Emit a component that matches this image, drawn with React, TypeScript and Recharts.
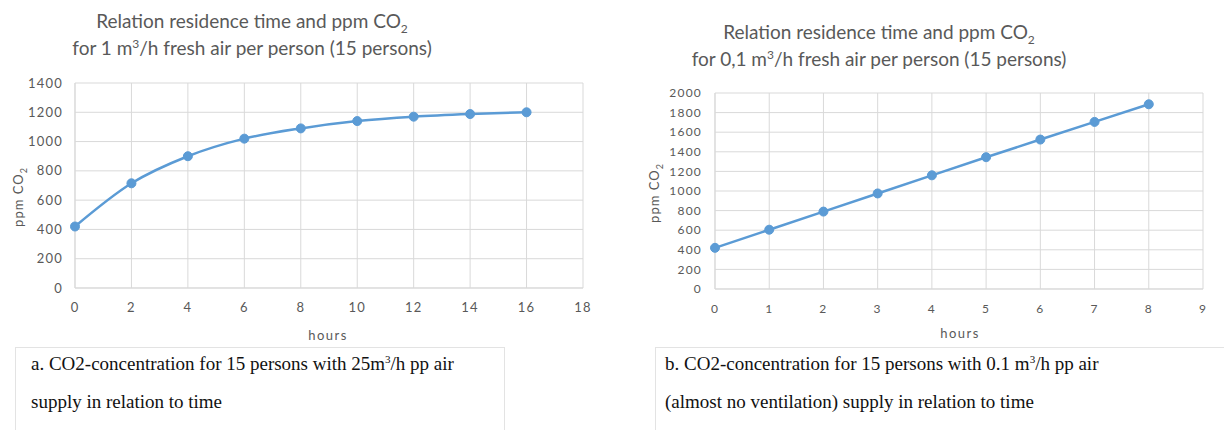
import React from 'react';
import { LineChart, Line, XAxis, YAxis, CartesianGrid } from 'recharts';

// chart a: 1 m3/h per person
const hoursA = [0, 2, 4, 6, 8, 10, 12, 14, 16];
const ppmA = [420, 715, 900, 1020, 1090, 1140, 1170, 1188, 1200];
const xTicksA = [0, 2, 4, 6, 8, 10, 12, 14, 16, 18];
const yTicksA = [0, 200, 400, 600, 800, 1000, 1200, 1400];

// chart b: 0,1 m3/h per person
const hoursB = [0, 1, 2, 3, 4, 5, 6, 7, 8];
const ppmB = [420, 605, 790, 975, 1160, 1345, 1525, 1705, 1885];
const xTicksB = [0, 1, 2, 3, 4, 5, 6, 7, 8, 9];
const yTicksB = [0, 200, 400, 600, 800, 1000, 1200, 1400, 1600, 1800, 2000];

const BLUE = '#5b9bd5';
const GRID = '#d9d9d9';
const TXT = '#595959';
const FONT = 'Lato, "Open Sans", sans-serif';

const abs = (left: number, top: number, extra: React.CSSProperties = {}): React.CSSProperties => ({
    position: 'absolute', left, top, ...extra,
});

interface ChartProps {
    hours: number[];
    ppm: number[];
    xTicks: number[];
    yTicks: number[];
    left: number;
    width: number;
    margin: { top: number; right: number; left: number; bottom: number };
    yWidth: number;
    yTickMargin: number;
    tickFont: number;
    curve: 'monotone' | 'linear';
}

const CO2Chart: React.FC<ChartProps> = (p) => {
    const data = p.hours.map((h, i) => ({ h, ppm: p.ppm[i] }));
    const xMax = p.xTicks[p.xTicks.length - 1];
    const yMax = p.yTicks[p.yTicks.length - 1];
    const tick = { fill: TXT, fontSize: p.tickFont, fontFamily: FONT, style: { letterSpacing: '1.2px' } };
    return (
        <div style={abs(p.left, 0)}>
            <LineChart width={p.width} height={340} data={data} margin={p.margin}>
                <CartesianGrid stroke={GRID} strokeWidth={1} />
                <XAxis dataKey="h" type="number" domain={[0, xMax]} ticks={p.xTicks} interval={0}
                    fontSize={p.tickFont} fontFamily={FONT}
                    axisLine={{ stroke: GRID }} tickLine={false} tickMargin={9} height={30} tick={tick} />
                <YAxis type="number" domain={[0, yMax]} ticks={p.yTicks} interval={0} width={p.yWidth}
                    fontSize={p.tickFont} fontFamily={FONT}
                    axisLine={{ stroke: GRID }} tickLine={false} tickMargin={p.yTickMargin} tick={tick} />
                <Line dataKey="ppm" type={p.curve} stroke={BLUE} strokeWidth={2.5}
                    dot={{ r: 4.5, fill: BLUE, stroke: BLUE, strokeWidth: 1 }}
                    isAnimationActive={false} />
            </LineChart>
        </div>
    );
};

const sub = (s: string, size: number) => <sub style={{ fontSize: size, lineHeight: 0 }}>{s}</sub>;
const sup = (s: string, size: number) => <sup style={{ fontSize: size, lineHeight: 0 }}>{s}</sup>;

const Title = ({ cx, top, lines }: { cx: number; top: number; lines: React.ReactNode[] }) => (
    <div style={abs(cx - 260, top, { width: 520, textAlign: 'center', color: TXT, fontFamily: FONT, fontSize: 19, lineHeight: '27px' })}>
        {lines.map((l, i) => <div key={i} style={{ height: 27 }}>{l}</div>)}
    </div>
);

const YLabel = ({ cx, cy }: { cx: number; cy: number }) => (
    <div style={abs(cx - 40, cy - 8, { width: 80, height: 16, textAlign: 'center', color: TXT, fontFamily: FONT, fontSize: 13, letterSpacing: 1, lineHeight: '16px', transform: 'rotate(-90deg)' })}>
        ppm CO{sub('2', 9)}
    </div>
);

const XLabel = ({ cx, cy }: { cx: number; cy: number }) => (
    <div style={abs(cx - 40, cy - 8, { width: 80, textAlign: 'center', color: TXT, fontFamily: FONT, fontSize: 13, letterSpacing: 1.5, lineHeight: '16px' })}>
        hours
    </div>
);

const Caption = ({ left, width, textLeft, lines }: { left: number; width: number; textLeft: number; lines: React.ReactNode[] }) => (
    <div style={abs(left, 347, { width, height: 100, border: '1px solid #e3e3e3', boxSizing: 'border-box' })}>
        <div style={abs(textLeft - left, -3, { fontFamily: '"Liberation Serif", serif', fontSize: 19, lineHeight: '38px', color: '#111', whiteSpace: 'nowrap' })}>
            {lines.map((l, i) => <div key={i} style={{ height: 38 }}>{l}</div>)}
        </div>
    </div>
);

export default function App() {
    return (
        <div style={{ position: 'absolute', left: 0, top: 0, width: 1224, height: 430, background: '#fff', overflow: 'hidden' }}>
            <Title cx={252} top={7} lines={[
                <>Relation residence time and ppm CO{sub('2', 12)}</>,
                <>for 1 m{sup('3', 12)}/h fresh air per person (15 persons)</>,
            ]} />
            <Title cx={879} top={18} lines={[
                <>Relation residence time and ppm CO{sub('2', 12)}</>,
                <>for 0,1 m{sup('3', 12)}/h fresh air per person (15 persons)</>,
            ]} />
            <CO2Chart hours={hoursA} ppm={ppmA} xTicks={xTicksA} yTicks={yTicksA} left={0} width={600}
                margin={{ top: 83, right: 17, left: 0, bottom: 22 }} yWidth={75} yTickMargin={6}
                tickFont={13} curve="monotone" />
            <CO2Chart hours={hoursB} ppm={ppmB} xTicks={xTicksB} yTicks={yTicksB} left={612} width={612}
                margin={{ top: 93, right: 21, left: 0, bottom: 21 }} yWidth={103} yTickMargin={7}
                tickFont={12} curve="linear" />
            <YLabel cx={18} cy={197} />
            <YLabel cx={654} cy={193} />
            <XLabel cx={328} cy={335} />
            <XLabel cx={960} cy={333} />
            <Caption left={15} width={490} textLeft={30} lines={[
                <>a. CO2-concentration for 15 persons with 25m{sup('3', 11)}/h pp air</>,
                <>supply in relation to time</>,
            ]} />
            <Caption left={655} width={580} textLeft={664} lines={[
                <>b. CO2-concentration for 15 persons with 0.1 m{sup('3', 11)}/h pp air</>,
                <>(almost no ventilation) supply in relation to time</>,
            ]} />
        </div>
    );
}
